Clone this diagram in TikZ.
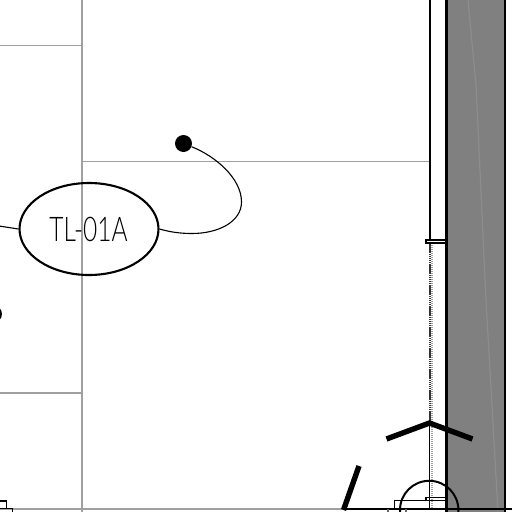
\documentclass[tikz,border=0pt]{standalone}
\usepackage{fontspec}
\setmainfont{Lato}[UprightFont=* Light]
\usetikzlibrary{shapes.geometric}
\definecolor{gridgrey}{RGB}{160,160,160}
\definecolor{wallgrey}{RGB}{128,128,128}
\definecolor{streak}{RGB}{141,141,141}
\tikzset{
  gridline/.style={draw=gridgrey,line width=1.4pt},
  wallline/.style={draw=black,line width=2pt},
  heavy/.style={draw=black,line width=5.4pt},
  thin detail/.style={draw=black,line width=1.2pt},
  leader/.style={draw=black,line width=1.1pt},
  tagshape/.style={ellipse,draw=black,line width=2.1pt,minimum width=139pt,minimum height=92pt,inner sep=0pt},
  dotmark/.style={circle,fill=black,minimum size=17pt,inner sep=0pt},
}
\begin{document}
\begin{tikzpicture}[x=1pt,y=-1pt]
\useasboundingbox (0,0) rectangle (512,512);
\clip (0,0) rectangle (512,512);
\fill[white] (0,0) rectangle (512,512);
% grid
\draw[gridline] (82,0) -- (82,512);
\draw[gridline] (0,45.5) -- (82,45.5);
\draw[gridline] (82,161.5) -- (429,161.5);
\draw[gridline] (0,393) -- (82,393);
\draw[gridline] (0,508.8) -- (345,508.8);
% wall
\fill[wallgrey] (447,0) rectangle (504.5,512);
\draw[streak,line width=1.2pt] (468,0) -- (476,85) -- (486,300) -- (498,512);
\draw[wallline,line width=2.2pt] (446.5,0) -- (446.5,512);
\draw[wallline] (504.5,0) -- (504.5,512);
\draw[wallline] (429.5,0) -- (429.5,240);
% stem
\draw[gridgrey,line width=1.6pt,dash pattern=on 1.2pt off 0.8pt] (431.8,243) -- (431.8,509);
\draw[black!80,line width=1.5pt,dash pattern=on 1.5pt off 0.6pt] (430,243) -- (430,425);
\draw[black,line width=1.8pt] (429.5,425) -- (429.5,509);
% cap
\draw[thin detail,fill=white] (426,240) rectangle (446,243);
% chevron and slash
\draw[heavy,line join=miter] (386.5,439) -- (429.5,423) -- (472.5,439);
\draw[heavy] (359,466) -- (343.5,510);
% base detail
\draw[wallline] (343,509) -- (512,509);
\draw[wallline] (400,512) -- (400,510) arc[start angle=180,end angle=360,radius=29.2] -- (458.4,512);
\draw[thin detail] (394.5,509) -- (394.5,500.5) -- (446,500.5);
\draw[thin detail] (426,500.5) -- (426,497.5) -- (446,497.5);
\draw[thin detail,draw=black!60] (388,509) -- (388,512);
\draw[thin detail,draw=black!60] (406,509) -- (406,512);
% left corner detail
\draw[thin detail] (0,501) -- (6.5,501) -- (6.5,508.5);
\draw[thin detail] (0,508.5) -- (12.5,508.5) -- (12.5,512);
% tag and leaders
\node[tagshape] (tag) at (89,229) {};
\node[font=\fontsize{34}{34}\selectfont,xscale=0.72,inner sep=0pt] (taglabel) at (88.5,229.5) {TL-01A};
\node[dotmark] (dota) at (183.5,143.5) {};
\node[dotmark] (dotb) at (-6.5,314) {};
\coordinate (bendr) at (241.5,202);
\coordinate (bendb) at (192,233.5);
\coordinate (farleft) at (-1,226);
\draw[leader] (dota) .. controls (215,156) and (241.5,178) .. (bendr)
  .. controls (241.5,222) and (218,233.5) .. (bendb)
  .. controls (180,233.5) and (170,232) .. (tag.east);
\draw[leader] (farleft) -- (tag.west);
\end{tikzpicture}
\end{document}
